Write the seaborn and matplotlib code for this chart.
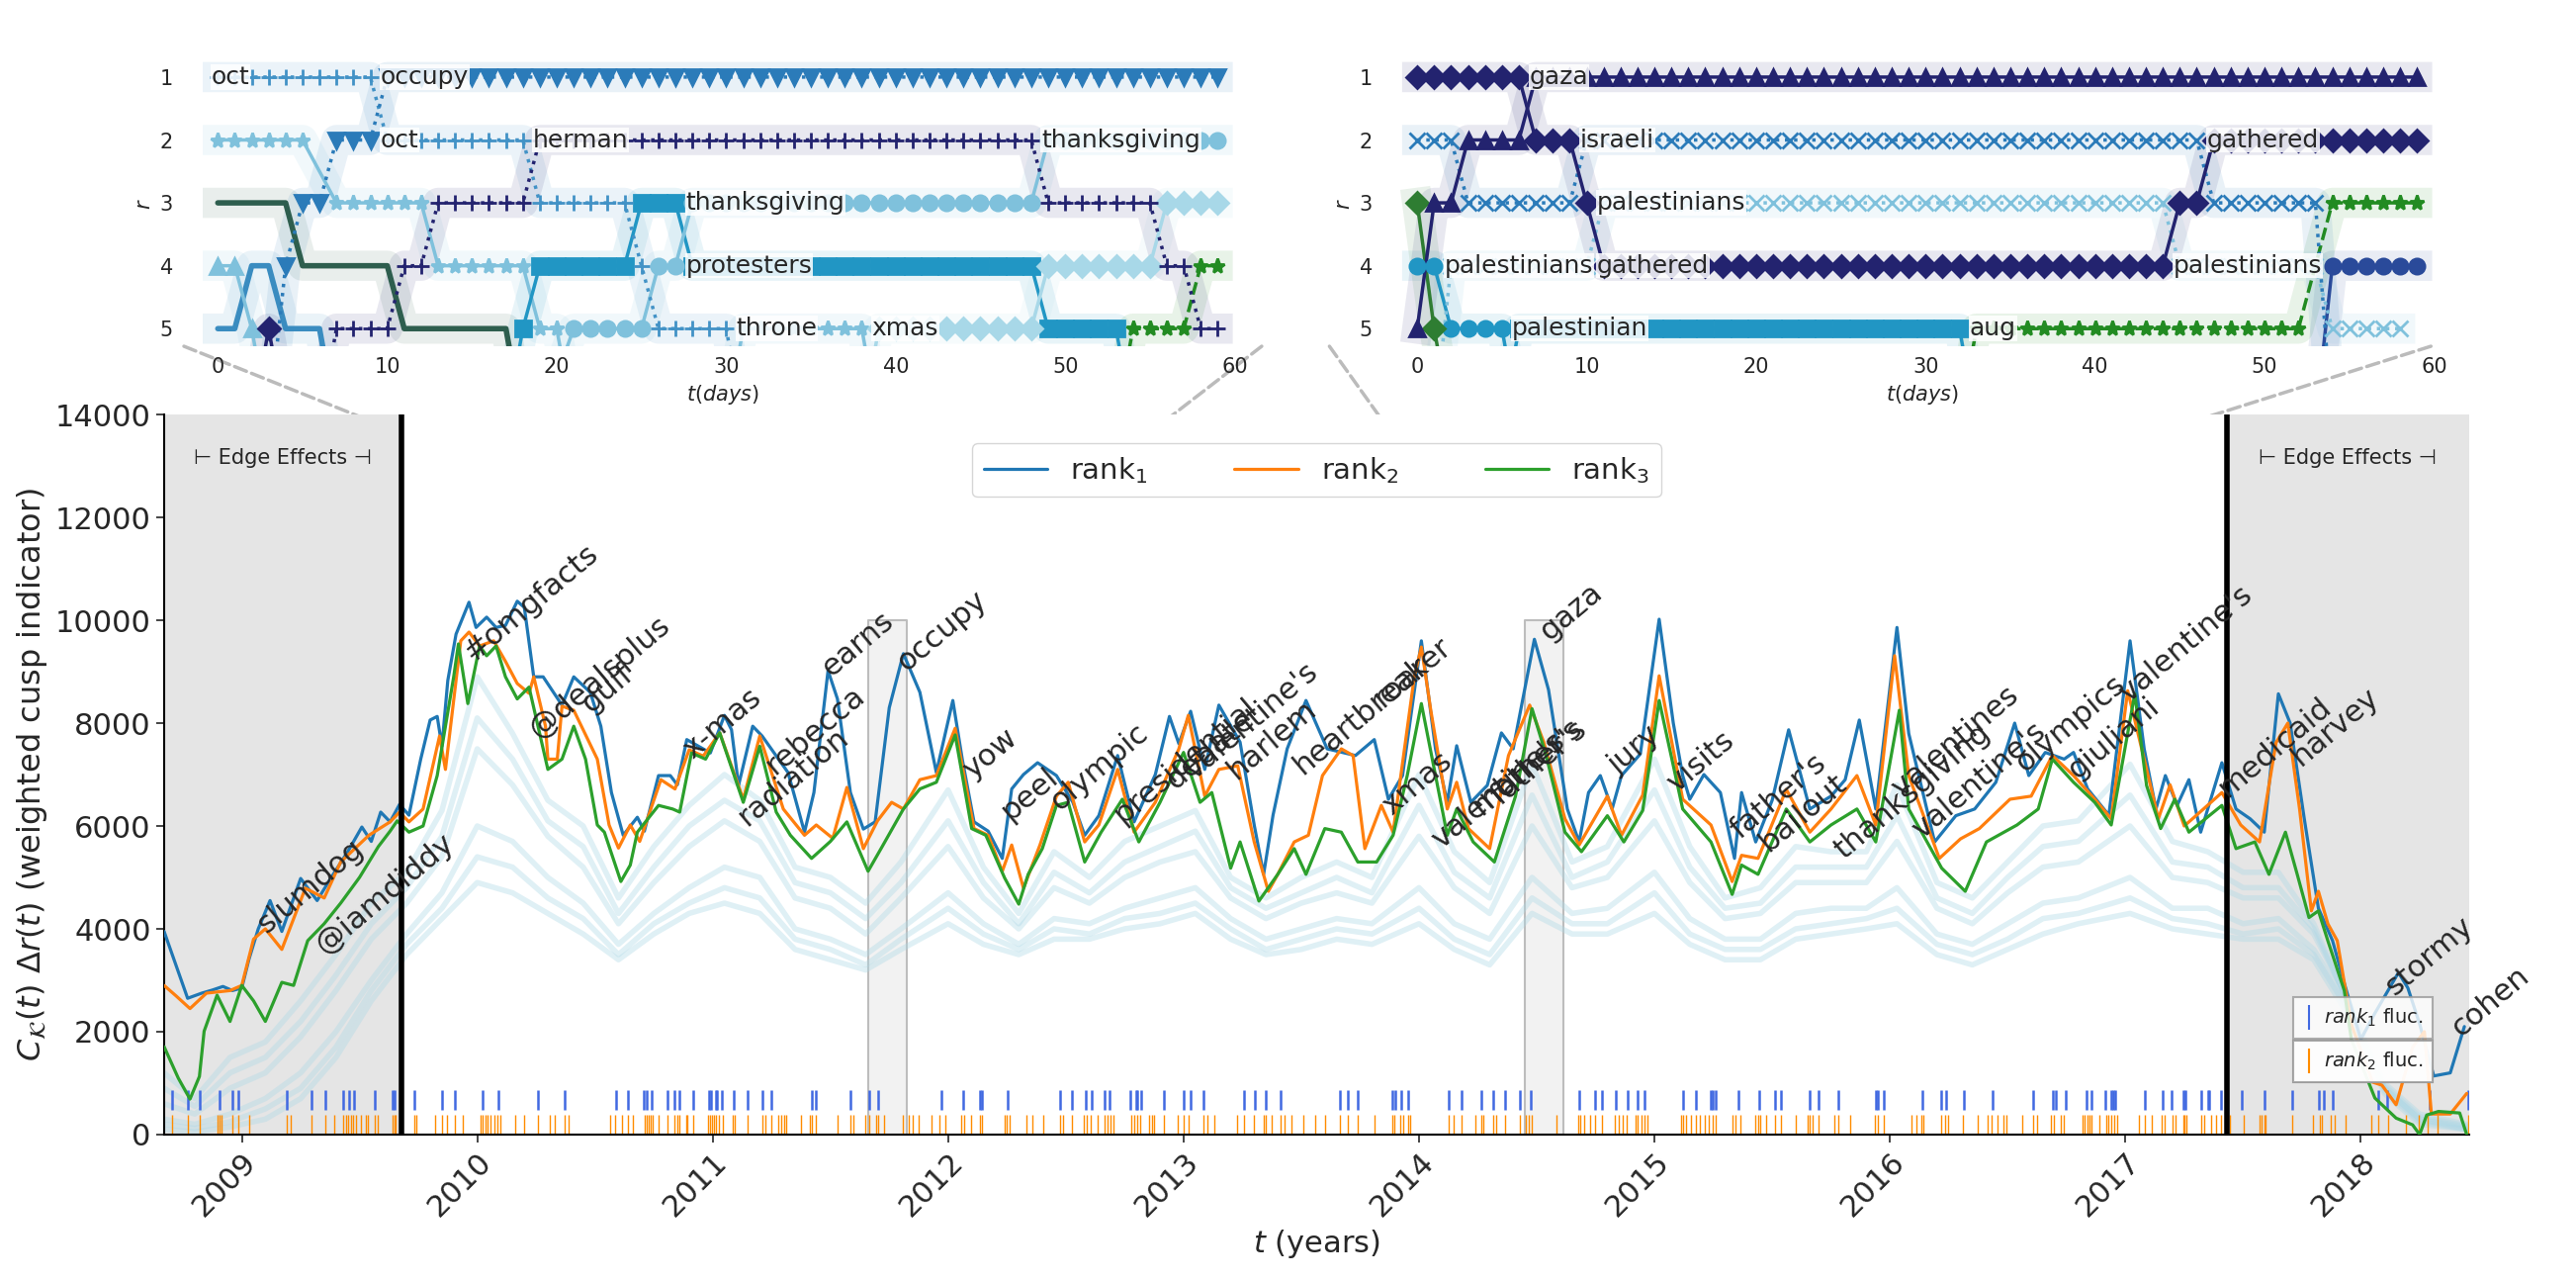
import numpy as np
import matplotlib
matplotlib.use("Agg")
import matplotlib.pyplot as plt
import seaborn as sns
from matplotlib.lines import Line2D
from matplotlib.patches import ConnectionPatch

# weighted cusp indicator over time, with two zoomed rank-turbulence insets

sns.set_theme(style="ticks")
plt.rcParams['font.family'] = ['DejaVu Sans']
plt.rcParams['mathtext.fontset'] = 'dejavusans'

# ---------------- main series (years, value) ----------------
rank1_t = [2008.67, 2008.72, 2008.77, 2008.83, 2008.875, 2008.92, 2008.96, 2009.0, 2009.03, 2009.07,
           2009.12, 2009.17, 2009.25, 2009.32, 2009.38, 2009.45, 2009.51, 2009.55, 2009.59, 2009.63,
           2009.67, 2009.71, 2009.76, 2009.80, 2009.83, 2009.85, 2009.875, 2009.91, 2009.965, 2009.995,
           2010.04, 2010.08, 2010.12, 2010.17, 2010.20, 2010.24, 2010.28, 2010.36, 2010.41, 2010.48,
           2010.525, 2010.57, 2010.62, 2010.68, 2010.71, 2010.77, 2010.82, 2010.85, 2010.89, 2010.94,
           2010.99, 2011.05, 2011.08, 2011.11, 2011.17, 2011.21, 2011.32, 2011.39, 2011.43, 2011.49,
           2011.53, 2011.585, 2011.64, 2011.69, 2011.75, 2011.81, 2011.88, 2011.95, 2012.02, 2012.06,
           2012.11, 2012.17, 2012.23, 2012.27, 2012.32, 2012.38, 2012.46, 2012.53, 2012.58, 2012.64,
           2012.72, 2012.79, 2012.88, 2012.94, 2012.98, 2013.03, 2013.09, 2013.15, 2013.24, 2013.30,
           2013.34, 2013.38, 2013.44, 2013.52, 2013.61, 2013.73, 2013.81, 2013.87, 2013.93, 2014.01,
           2014.07, 2014.12, 2014.16, 2014.22, 2014.29, 2014.35, 2014.40, 2014.49, 2014.55, 2014.63,
           2014.68, 2014.72, 2014.77, 2014.82, 2014.86, 2014.94, 2015.02, 2015.08, 2015.12, 2015.15,
           2015.21, 2015.28, 2015.34, 2015.37, 2015.43, 2015.50, 2015.57, 2015.66, 2015.75, 2015.81,
           2015.87, 2015.94, 2016.03, 2016.08, 2016.19, 2016.28, 2016.36, 2016.45, 2016.53, 2016.59,
           2016.66, 2016.74, 2016.78, 2016.84, 2016.93, 2017.02, 2017.08, 2017.13, 2017.17, 2017.22,
           2017.27, 2017.32, 2017.41, 2017.47, 2017.53, 2017.59, 2017.65, 2017.70, 2017.76, 2017.82,
           2017.88, 2017.93, 2018.00, 2018.06, 2018.16, 2018.20, 2018.25, 2018.31, 2018.38, 2018.44]
rank1_v = [3950, 3300, 2650, 2750, 2810, 2880, 2800, 2850, 3400, 4000,
           4550, 3950, 4980, 4550, 5000, 5500, 5980, 5700, 6270, 6080,
           6420, 6210, 7300, 8060, 8130, 7550, 8830, 9730, 10350, 9860,
           10060, 9860, 9900, 10370, 10250, 8900, 8900, 8350, 8900, 8600,
           7940, 6650, 5820, 6170, 5900, 6980, 6980, 6800, 7680, 7550,
           7420, 8150, 7870, 6790, 7940, 7750, 7040, 5880, 6650, 9020,
           8470, 6650, 5940, 6080, 8300, 9350, 8600, 7040, 8440, 7300,
           6080, 5900, 5370, 6720, 7000, 7230, 6980, 6460, 5820, 6200,
           7370, 6080, 7000, 8130, 7600, 8230, 7100, 8350, 7630, 6020,
           5060, 6210, 7500, 8440, 7500, 7370, 7680, 6520, 6980, 9600,
           7500, 6460, 7560, 6460, 6790, 7810, 7500, 9630, 8650, 6330,
           5690, 6650, 6980, 6330, 6980, 7400, 10020, 8000, 6980, 6520,
           7000, 6650, 5370, 6650, 5690, 6500, 7870, 6330, 6580, 6900,
           8060, 6330, 9860, 7800, 5690, 6200, 6330, 6850, 8000, 6980,
           7430, 7300, 7430, 6720, 6210, 9600, 7500, 6330, 6980, 6400,
           6900, 5880, 7230, 6330, 6140, 5880, 8570, 8000, 6140, 4400,
           3770, 2940, 1850, 2360, 3150, 2850, 2150, 1140, 1200, 2100]

rank2_t = [2008.67, 2008.72, 2008.78, 2008.85, 2008.95, 2009.0, 2009.05, 2009.10, 2009.17, 2009.27,
           2009.35, 2009.42, 2009.54, 2009.63, 2009.67, 2009.71, 2009.77, 2009.84, 2009.865, 2009.93,
           2009.965, 2010.01, 2010.07, 2010.12, 2010.17, 2010.22, 2010.24, 2010.29, 2010.30, 2010.34,
           2010.36, 2010.41, 2010.51, 2010.56, 2010.60, 2010.65, 2010.69, 2010.78, 2010.84, 2010.90,
           2010.96, 2011.03, 2011.13, 2011.20, 2011.30, 2011.39, 2011.44, 2011.51, 2011.57, 2011.64,
           2011.70, 2011.76, 2011.81, 2011.88, 2011.95, 2012.03, 2012.11, 2012.17, 2012.23, 2012.27,
           2012.32, 2012.39, 2012.46, 2012.51, 2012.58, 2012.64, 2012.72, 2012.79, 2012.88, 2012.98,
           2013.02, 2013.09, 2013.15, 2013.23, 2013.30, 2013.36, 2013.40, 2013.47, 2013.53, 2013.59,
           2013.67, 2013.72, 2013.77, 2013.84, 2013.89, 2013.98, 2014.01, 2014.05, 2014.12, 2014.16,
           2014.21, 2014.30, 2014.38, 2014.47, 2014.53, 2014.62, 2014.68, 2014.80, 2014.86, 2014.95,
           2015.02, 2015.12, 2015.24, 2015.33, 2015.37, 2015.44, 2015.56, 2015.66, 2015.75, 2015.86,
           2015.94, 2016.02, 2016.08, 2016.21, 2016.30, 2016.38, 2016.51, 2016.60, 2016.69, 2016.78,
           2016.87, 2016.94, 2017.01, 2017.08, 2017.14, 2017.19, 2017.25, 2017.30, 2017.41, 2017.49,
           2017.57, 2017.64, 2017.69, 2017.74, 2017.79, 2017.82, 2017.86, 2017.90, 2017.96, 2018.05,
           2018.09, 2018.15, 2018.22, 2018.27, 2018.30, 2018.38, 2018.45]
rank2_v = [2900, 2700, 2450, 2750, 2800, 2900, 3800, 4000, 3600, 4790,
           4600, 5300, 5820, 6080, 6270, 6080, 6330, 7750, 7100, 9600,
           9770, 9500, 9600, 9200, 8770, 8580, 8900, 7940, 7300, 7300,
           8330, 8250, 7300, 6020, 5570, 6020, 5700, 6900, 6720, 7480,
           7360, 7810, 6520, 7750, 6330, 5820, 6020, 5760, 6750, 5560,
           6100, 6460, 6330, 6900, 6980, 7900, 5950, 5820, 5120, 5630,
           4790, 5630, 6580, 6850, 5690, 6020, 7100, 5880, 6460, 7500,
           8150, 6580, 7100, 7170, 5690, 4730, 5060, 5690, 5820, 6980,
           7500, 7370, 5560, 6400, 5880, 8900, 9480, 8250, 6330, 6850,
           5950, 5560, 7370, 8350, 7630, 6140, 5630, 6580, 5820, 6600,
           8920, 6520, 6020, 4920, 5430, 5370, 6710, 5880, 6330, 6980,
           6020, 9310, 6980, 5370, 5750, 5950, 6520, 6580, 7370, 6980,
           6520, 6140, 8630, 7300, 6140, 6800, 6000, 6200, 6650, 6020,
           5690, 7620, 8000, 6330, 4350, 4730, 4100, 3770, 2140, 1020,
           960, 580, 1700, 2000, 400, 400, 800]

rank3_t = [2008.67, 2008.73, 2008.78, 2008.82, 2008.84, 2008.895, 2008.95, 2009.0, 2009.05, 2009.10,
           2009.17, 2009.22, 2009.28, 2009.35, 2009.42, 2009.50, 2009.58, 2009.63, 2009.66, 2009.71,
           2009.77, 2009.83, 2009.90, 2009.92, 2009.96, 2010.01, 2010.04, 2010.08, 2010.12, 2010.17,
           2010.22, 2010.30, 2010.36, 2010.41, 2010.46, 2010.51, 2010.54, 2010.61, 2010.65, 2010.68,
           2010.77, 2010.83, 2010.86, 2010.91, 2010.97, 2011.03, 2011.13, 2011.20, 2011.27, 2011.33,
           2011.42, 2011.50, 2011.57, 2011.66, 2011.72, 2011.81, 2011.88, 2011.95, 2012.03, 2012.10,
           2012.16, 2012.24, 2012.30, 2012.34, 2012.40, 2012.46, 2012.51, 2012.58, 2012.65, 2012.74,
           2012.81, 2012.90, 2013.00, 2013.07, 2013.12, 2013.20, 2013.24, 2013.32, 2013.40, 2013.47,
           2013.52, 2013.60, 2013.67, 2013.74, 2013.82, 2013.89, 2013.95, 2014.01, 2014.07, 2014.12,
           2014.16, 2014.23, 2014.32, 2014.41, 2014.48, 2014.54, 2014.62, 2014.69, 2014.80, 2014.87,
           2014.95, 2015.02, 2015.12, 2015.24, 2015.33, 2015.37, 2015.44, 2015.56, 2015.66, 2015.75,
           2015.86, 2015.94, 2016.04, 2016.08, 2016.22, 2016.32, 2016.41, 2016.54, 2016.63, 2016.69,
           2016.78, 2016.87, 2016.94, 2017.04, 2017.09, 2017.15, 2017.21, 2017.27, 2017.41, 2017.47,
           2017.55, 2017.61, 2017.68, 2017.73, 2017.78, 2017.82, 2017.86, 2017.93, 2017.96, 2018.06,
           2018.15, 2018.22, 2018.25, 2018.28, 2018.33, 2018.42, 2018.45]
rank3_v = [1710, 1100, 690, 1130, 2010, 2710, 2200, 2900, 2600, 2200,
           2960, 2900, 3770, 4100, 4500, 5000, 5600, 5900, 6100, 5880,
           6000, 6980, 8900, 9540, 8380, 9500, 9310, 9500, 8900, 8470,
           8700, 7100, 7300, 7940, 7300, 6020, 5880, 4920, 5240, 5880,
           6400, 6330, 6270, 7420, 7300, 7810, 6460, 7550, 6270, 5820,
           5370, 5700, 6080, 5120, 5600, 6330, 6720, 6850, 7770, 5950,
           5820, 4990, 4480, 5060, 5560, 6400, 6460, 5300, 5880, 6520,
           5690, 6460, 7430, 6460, 6650, 5180, 5690, 4540, 5060, 5560,
           5060, 5950, 5880, 5300, 5300, 5820, 6980, 8380, 6980, 5820,
           6330, 5690, 5300, 6580, 8280, 7370, 5880, 5500, 6200, 5690,
           6300, 8440, 6330, 5690, 4670, 5240, 5060, 6330, 5690, 6020,
           6330, 5690, 8250, 6330, 5180, 4730, 5690, 6020, 6330, 7300,
           6850, 6460, 6020, 8570, 6790, 5950, 6520, 5880, 6400, 5560,
           5690, 5060, 5880, 5060, 4220, 4350, 3770, 2800, 1850, 710,
           320, 190, 0, 380, 450, 420, 0]

# lower ranks (faint background lines)
faint_t = [2008.67, 2008.8, 2008.95, 2009.1, 2009.25, 2009.4, 2009.55, 2009.7, 2009.85, 2010.0,
           2010.15, 2010.3, 2010.45, 2010.6, 2010.75, 2010.9, 2011.05, 2011.2, 2011.35, 2011.5,
           2011.65, 2011.8, 2012.0, 2012.15, 2012.3, 2012.45, 2012.6, 2012.75, 2012.9, 2013.05,
           2013.2, 2013.35, 2013.5, 2013.65, 2013.8, 2014.0, 2014.15, 2014.3, 2014.48, 2014.65,
           2014.8, 2015.0, 2015.15, 2015.3, 2015.45, 2015.6, 2015.75, 2015.9, 2016.03, 2016.2,
           2016.35, 2016.5, 2016.65, 2016.8, 2017.02, 2017.2, 2017.35, 2017.5, 2017.65, 2017.8,
           2017.95, 2018.1, 2018.25, 2018.45]
faint_a = [1200, 700, 1500, 1800, 2600, 3500, 4500, 5100, 6300, 8900,
           7800, 6500, 6000, 4600, 5600, 6400, 7000, 6500, 5200, 5000,
           4500, 5300, 6700, 5200, 4300, 5500, 5000, 5700, 6000, 6300,
           5000, 4600, 5000, 5300, 5000, 7000, 5500, 4900, 7200, 5300,
           5600, 7300, 5600, 4600, 4800, 5600, 5500, 5500, 6800, 4900,
           4600, 5300, 6000, 6100, 7200, 5700, 5500, 5100, 5100, 4100,
           2500, 800, 200, 100]
faint_e = [900, 550, 1200, 1500, 2200, 3100, 4100, 4800, 5800, 8100,
           7300, 6100, 5600, 4300, 5200, 6000, 6500, 6100, 4900, 4700,
           4200, 4900, 6100, 4900, 4100, 5100, 4700, 5300, 5600, 5900,
           4800, 4400, 4700, 5000, 4700, 6400, 5100, 4600, 6600, 5000,
           5300, 6700, 5200, 4400, 4500, 5200, 5200, 5200, 6200, 4600,
           4300, 5000, 5600, 5700, 6600, 5300, 5200, 4800, 4800, 4000,
           2550, 850, 250, 100]
faint_b = [600, 400, 900, 1200, 1900, 2800, 3800, 4500, 5400, 7500,
           6800, 5800, 5200, 4100, 4900, 5600, 6100, 5700, 4600, 4400,
           3900, 4600, 5600, 4600, 4000, 4800, 4500, 5000, 5300, 5500,
           4600, 4200, 4500, 4700, 4500, 5800, 4800, 4300, 6000, 4800,
           5000, 6100, 4900, 4200, 4300, 4900, 4900, 4900, 5700, 4400,
           4100, 4700, 5200, 5300, 6000, 5000, 4900, 4600, 4600, 3900,
           2600, 900, 300, 100]
faint_c = [300, 200, 400, 700, 1200, 2000, 3000, 3900, 4700, 6000,
           5700, 5000, 4500, 3700, 4300, 4800, 5200, 5000, 4000, 3800,
           3500, 4000, 4700, 4100, 3700, 4200, 4100, 4400, 4600, 4800,
           4200, 3800, 4000, 4200, 4100, 4800, 4100, 3800, 5000, 4300,
           4400, 5100, 4200, 3800, 3800, 4300, 4400, 4400, 4800, 3900,
           3700, 4100, 4500, 4600, 5000, 4400, 4400, 4100, 4200, 3600,
           2500, 1000, 400, 200]
faint_f = [200, 120, 250, 500, 900, 1700, 2800, 3700, 4400, 5400,
           5200, 4600, 4200, 3500, 4100, 4500, 4800, 4600, 3800, 3600,
           3300, 3800, 4400, 3900, 3600, 4000, 3900, 4200, 4300, 4500,
           4000, 3600, 3800, 4000, 3900, 4400, 3800, 3500, 4600, 4100,
           4100, 4700, 3900, 3600, 3600, 4000, 4100, 4200, 4400, 3700,
           3500, 3800, 4200, 4300, 4600, 4200, 4100, 3900, 4000, 3500,
           2400, 950, 350, 170]
faint_d = [100, 50, 150, 300, 700, 1500, 2600, 3500, 4200, 4900,
           4700, 4300, 3900, 3400, 3900, 4300, 4500, 4300, 3600, 3400,
           3200, 3600, 4100, 3700, 3500, 3800, 3800, 4000, 4100, 4300,
           3800, 3500, 3600, 3800, 3700, 4100, 3600, 3300, 4300, 3900,
           3900, 4300, 3700, 3400, 3400, 3800, 3900, 4000, 4100, 3500,
           3300, 3600, 3900, 4100, 4300, 4000, 3900, 3800, 3800, 3400,
           2300, 900, 300, 150]

# rank fluctuation times (years)
rank1_fluc = [2008.703, 2008.771, 2008.823, 2008.905, 2008.962, 2008.984, 2009.189, 2009.296, 2009.355, 2009.432,
              2009.457, 2009.476, 2009.563, 2009.642, 2009.650, 2009.731, 2009.852, 2009.904, 2010.023, 2010.089,
              2010.259, 2010.370, 2010.589, 2010.640, 2010.708, 2010.720, 2010.739, 2010.807, 2010.836, 2010.859,
              2010.918, 2010.984, 2010.994, 2011.013, 2011.020, 2011.039, 2011.088, 2011.149, 2011.210, 2011.250,
              2011.423, 2011.439, 2011.583, 2011.665, 2011.701, 2011.970, 2012.064, 2012.135, 2012.145, 2012.252,
              2012.475, 2012.525, 2012.584, 2012.608, 2012.663, 2012.686, 2012.775, 2012.797, 2012.805, 2012.818,
              2012.915, 2012.999, 2013.031, 2013.086, 2013.256, 2013.301, 2013.351, 2013.410, 2013.664, 2013.696,
              2013.738, 2013.888, 2013.901, 2013.923, 2013.952, 2014.128, 2014.180, 2014.264, 2014.315, 2014.367,
              2014.428, 2014.473, 2014.681, 2014.746, 2014.777, 2014.836, 2014.888, 2014.927, 2014.957, 2015.120,
              2015.175, 2015.238, 2015.249, 2015.259, 2015.357, 2015.444, 2015.510, 2015.538, 2015.660, 2015.696,
              2015.781, 2015.941, 2015.949, 2015.976, 2016.138, 2016.217, 2016.239, 2016.313, 2016.437, 2016.608,
              2016.694, 2016.704, 2016.745, 2016.833, 2016.857, 2016.916, 2016.939, 2016.947, 2016.957, 2017.082,
              2017.159, 2017.195, 2017.245, 2017.257, 2017.322, 2017.350, 2017.356, 2017.407, 2017.493, 2017.591,
              2017.710, 2017.823, 2017.842, 2017.881, 2018.075, 2018.111, 2018.292, 2018.455]
rank2_fluc = [2008.703, 2008.771, 2008.823, 2008.897, 2008.905, 2008.913, 2008.962, 2008.984, 2009.031, 2009.189,
              2009.208, 2009.296, 2009.355, 2009.394, 2009.432, 2009.442, 2009.453, 2009.462, 2009.473, 2009.486,
              2009.505, 2009.528, 2009.536, 2009.563, 2009.576, 2009.639, 2009.647, 2009.655, 2009.731, 2009.742,
              2009.821, 2009.852, 2009.871, 2009.904, 2009.939, 2010.013, 2010.023, 2010.034, 2010.045, 2010.057,
              2010.073, 2010.084, 2010.097, 2010.160, 2010.199, 2010.259, 2010.310, 2010.329, 2010.370, 2010.389,
              2010.563, 2010.586, 2010.613, 2010.641, 2010.660, 2010.713, 2010.720, 2010.728, 2010.736, 2010.744,
              2010.771, 2010.807, 2010.839, 2010.851, 2010.859, 2010.886, 2010.894, 2010.918, 2010.981, 2010.989,
              2010.997, 2011.005, 2011.013, 2011.028, 2011.044, 2011.084, 2011.095, 2011.149, 2011.210, 2011.223,
              2011.250, 2011.278, 2011.289, 2011.302, 2011.313, 2011.373, 2011.412, 2011.423, 2011.436, 2011.531,
              2011.583, 2011.597, 2011.646, 2011.665, 2011.693, 2011.701, 2011.728, 2011.807, 2011.834, 2011.850,
              2011.873, 2011.930, 2011.965, 2011.989, 2012.057, 2012.068, 2012.096, 2012.135, 2012.143, 2012.241,
              2012.249, 2012.260, 2012.331, 2012.357, 2012.404, 2012.475, 2012.486, 2012.525, 2012.578, 2012.589,
              2012.604, 2012.636, 2012.663, 2012.675, 2012.688, 2012.704, 2012.778, 2012.791, 2012.802, 2012.814,
              2012.854, 2012.865, 2012.873, 2012.915, 2012.975, 2012.999, 2013.023, 2013.086, 2013.102, 2013.130,
              2013.228, 2013.256, 2013.299, 2013.342, 2013.351, 2013.375, 2013.410, 2013.430, 2013.459, 2013.509,
              2013.560, 2013.599, 2013.664, 2013.696, 2013.738, 2013.809, 2013.888, 2013.896, 2013.920, 2013.931,
              2013.955, 2013.964, 2014.128, 2014.149, 2014.180, 2014.239, 2014.264, 2014.275, 2014.315, 2014.326,
              2014.367, 2014.428, 2014.454, 2014.465, 2014.480, 2014.583, 2014.675, 2014.686, 2014.701, 2014.725,
              2014.746, 2014.777, 2014.833, 2014.848, 2014.867, 2014.883, 2014.918, 2014.930, 2014.946, 2014.959,
              2014.970, 2015.112, 2015.120, 2015.132, 2015.155, 2015.175, 2015.191, 2015.215, 2015.230, 2015.246,
              2015.259, 2015.333, 2015.344, 2015.365, 2015.428, 2015.439, 2015.448, 2015.475, 2015.510, 2015.538,
              2015.601, 2015.649, 2015.660, 2015.672, 2015.696, 2015.764, 2015.780, 2015.830, 2015.938, 2015.949,
              2015.976, 2016.091, 2016.112, 2016.135, 2016.143, 2016.217, 2016.233, 2016.247, 2016.310, 2016.372,
              2016.414, 2016.430, 2016.456, 2016.484, 2016.496, 2016.562, 2016.608, 2016.624, 2016.683, 2016.698,
              2016.725, 2016.740, 2016.818, 2016.825, 2016.838, 2016.849, 2016.857, 2016.888, 2016.919, 2016.929,
              2016.942, 2016.954, 2016.965, 2017.058, 2017.082, 2017.113, 2017.156, 2017.167, 2017.201, 2017.213,
              2017.245, 2017.252, 2017.260, 2017.322, 2017.335, 2017.366, 2017.384, 2017.407, 2017.428, 2017.446,
              2017.501, 2017.570, 2017.578, 2017.589, 2017.594, 2017.710, 2017.796, 2017.827, 2017.834, 2017.873,
              2017.889, 2017.935, 2018.044, 2018.075, 2018.114, 2018.191, 2018.246, 2018.284, 2018.328, 2018.455]

# word annotations on the main panel (word, year, value at text start)
ann_words = ["slumdog", "@iamdiddy", "#omgfacts", "@dealsplus", "gulf", "x-mas", "radiation", "rebecca",
             "earns", "occupy", "yow", "peel", "olympic", "presidential", "debate", "valentine's", "harlem",
             "heartbreaker", "roar", "xmas", "valentine's", "mother's", "father's", "gaza", "jury", "visits",
             "father's", "bailout", "thanksgiving", "valentines", "valentine's", "olympics", "giuliani",
             "valentine's", "medicaid", "harvey", "stormy", "cohen"]
ann_t = [2009.12, 2009.37, 2010.00, 2010.28, 2010.50, 2010.93, 2011.16, 2011.28,
         2011.52, 2011.84, 2012.12, 2012.28, 2012.49, 2012.76, 2012.98, 2013.06, 2013.24,
         2013.52, 2013.86, 2013.90, 2014.11, 2014.28, 2014.36, 2014.57, 2014.86, 2015.11,
         2015.38, 2015.50, 2015.82, 2016.06, 2016.15, 2016.59, 2016.81,
         2017.03, 2017.45, 2017.76, 2018.16, 2018.44]
ann_v = [3800, 3400, 9100, 7600, 8100, 7200, 5900, 6900,
         8800, 8900, 6800, 6000, 6200, 5950, 6600, 6800, 6800,
         6900, 8200, 6100, 5450, 6100, 6300, 9500, 6900, 6550,
         5650, 5400, 5250, 6450, 5650, 6950, 6800,
         8300, 6450, 7050, 2600, 1800]

edge_left = [2008.67, 2009.68]
edge_right = [2017.43, 2018.46]
zoom_start = [2011.66, 2014.45]
zoom_days = 60

# ---------------- inset word trajectories: runs of (first day, last day, rank) ----------------
# rank 6.5 = outside the top 5
navy, steel, mid, teal, light, pale = "#23236f", "#2b7bb9", "#4292c6", "#2196c4", "#7fc1dc", "#a8d8e8"
dgreen, green, green2 = "#2e5e4e", "#228b22", "#2e7d32"

inset1_words = [
    # (runs, color, marker, linestyle)
    ([(0, 5, 2), (7, 12, 3), (13, 18, 4), (19, 20, 5), (21, 21, 6.5), (30, 30, 6.5), (31, 38, 5), (39, 39, 6.5)], light, "*", "-"),
    ([(0, 4, 3), (5, 10, 4), (11, 17, 5), (18, 18, 6.5)], dgreen, None, "-"),
    ([(0, 1, 5), (2, 3, 4), (4, 6, 5), (7, 7, 6.5)], "#3a8cc0", None, "-"),
    ([(0, 1, 4), (2, 2, 5), (3, 3, 6.5)], light, "^", "-"),
    ([(2, 2, 6.5), (3, 3, 5), (4, 4, 6.5)], navy, "D", "-"),
    ([(17, 17, 6.5), (18, 18, 5), (19, 24, 4), (25, 27, 3), (28, 48, 4), (49, 53, 5), (54, 54, 6.5)], teal, "s", "-"),
    ([(19, 19, 6.5), (21, 25, 5), (26, 27, 4), (28, 48, 3), (49, 59, 2)], light, "o", "-"),
    ([(38, 38, 6.5), (39, 48, 5), (49, 55, 4), (56, 59, 3)], pale, "D", "-"),
    ([(53, 53, 6.5), (54, 57, 5), (58, 59, 4)], green, "*", "--"),
    ([(0, 9, 1), (10, 18, 2), (19, 24, 3), (25, 25, 4), (26, 30, 5), (31, 31, 6.5)], mid, "+", ":"),
    ([(6, 6, 6.5), (7, 10, 5), (11, 12, 4), (13, 18, 3), (19, 48, 2), (49, 55, 3), (56, 57, 4), (58, 59, 5)], navy, "+", ":"),
    ([(3, 3, 6.5), (4, 4, 4), (5, 6, 3), (7, 9, 2), (10, 59, 1)], steel, "v", ":"),
]
inset1_labels = [("oct", 0, 1), ("occupy", 10, 1), ("oct", 10, 2), ("herman", 19, 2), ("thanksgiving", 49, 2),
                 ("thanksgiving", 28, 3), ("protesters", 28, 4), ("throne", 31, 5), ("xmas", 39, 5)]

inset2_words = [
    ([(0, 1, 4), (2, 5, 5), (6, 6, 6.5)], teal, "o", "-"),
    ([(53, 53, 6.5), (54, 59, 4)], "#2a4a9a", "o", "-"),
    ([(5, 5, 6.5), (6, 32, 5), (33, 33, 6.5)], teal, "s", "-"),
    ([(0, 0, 3), (1, 1, 5), (2, 2, 6.5)], green2, "D", "-"),
    ([(32, 32, 6.5), (33, 52, 5), (54, 59, 3)], green, "*", "--"),
    ([(1, 1, 6.5), (2, 10, 4), (11, 44, 3), (45, 53, 4), (54, 58, 5)], light, "x", ":"),
    ([(0, 2, 2), (3, 9, 3), (10, 46, 2), (47, 53, 3), (54, 56, 6.5)], steel, "x", ":"),
    ([(0, 0, 5), (1, 2, 3), (3, 6, 2), (7, 59, 1)], navy, "^", "-"),
    ([(0, 6, 1), (7, 9, 2), (10, 10, 3), (11, 44, 4), (45, 46, 3), (47, 59, 2)], navy, "D", "-"),
]
inset2_labels = [("gaza", 7, 1), ("israeli", 10, 2), ("gathered", 47, 2), ("palestinians", 11, 3),
                 ("palestinians", 2, 4), ("gathered", 11, 4), ("palestinians", 45, 4),
                 ("palestinian", 6, 5), ("aug", 33, 5)]

# ---------------- figure ----------------
fig = plt.figure(figsize=(26.05, 12.95), dpi=100)
ax = fig.add_axes([0.0637, 0.1143, 0.8948, 0.5621])

ax.axvspan(edge_left[0], edge_left[1], color="#e5e5e5", lw=0, zorder=0)
ax.axvspan(edge_right[0], edge_right[1], color="#e5e5e5", lw=0, zorder=0)
ax.axvline(edge_left[1], color="black", lw=4, zorder=4)
ax.axvline(edge_right[0], color="black", lw=4, zorder=4)
for e in [edge_left, edge_right]:
    ax.text((e[0] + e[1]) / 2, 13150, "\u22a2 Edge Effects \u22a3", ha="center", va="center", fontsize=15)

for z0 in zoom_start:
    ax.fill_between([z0, z0 + zoom_days / 365.25], 0, 10000, facecolor="#f2f2f2",
                    edgecolor="#bdbdbd", lw=1.5, zorder=0.5)

for s in [faint_a, faint_e, faint_b, faint_c, faint_f, faint_d]:
    sns.lineplot(x=faint_t, y=s, ax=ax, color="lightblue", alpha=0.38, lw=4,
                 sort=False, estimator=None, legend=False, zorder=1)

sns.lineplot(x=rank1_t, y=rank1_v, ax=ax, color="#1f77b4", lw=2.3, sort=False, estimator=None,
             label=r"rank$_1$", zorder=3)
sns.lineplot(x=rank2_t, y=rank2_v, ax=ax, color="#ff7f0e", lw=2.3, sort=False, estimator=None,
             label=r"rank$_2$", zorder=3)
sns.lineplot(x=rank3_t, y=rank3_v, ax=ax, color="#2ca02c", lw=2.3, sort=False, estimator=None,
             label=r"rank$_3$", zorder=3)

ax.vlines(rank1_fluc, 480, 870, color="royalblue", lw=1.8, zorder=2)
sns.rugplot(x=rank2_fluc, ax=ax, height=0.028, color="darkorange", lw=2, expand_margins=False, zorder=2)

for w, t, v in zip(ann_words, ann_t, ann_v):
    ax.text(t, v, w, rotation=40, rotation_mode="anchor", ha="left", va="bottom",
            fontsize=22, zorder=5)

ax.set_xlim(2008.67, 2018.46)
ax.set_ylim(0, 14000)
ax.set_yticks(range(0, 14001, 2000))
years = list(range(2009, 2019))
ax.set_xticks(years)
ax.set_xticklabels([str(y) for y in years], rotation=45, ha="right", rotation_mode="anchor")
ax.tick_params(axis="both", labelsize=22, length=6, width=1.2)
ax.set_xlabel(r"$t$ (years)", fontsize=22)
ax.set_ylabel(r"$C_{\mathcal{K}}(t)\ \Delta r(t)$ (weighted cusp indicator)", fontsize=23)
sns.despine(ax=ax)
for sp in ["left", "bottom"]:
    ax.spines[sp].set_color("black")
    ax.spines[sp].set_linewidth(1.5)

leg = ax.legend(loc="upper center", bbox_to_anchor=(0.5, 0.98), ncol=3, fontsize=21,
                frameon=True, handlelength=2.2, columnspacing=3.0)
ax.add_artist(leg)
h1 = Line2D([], [], color="royalblue", marker="|", ls="none", markersize=18, mew=1.5)
h2 = Line2D([], [], color="darkorange", marker="|", ls="none", markersize=18, mew=1.5)
for h, lab, yy in [(h1, r"$rank_1$ fluc.", 0.162), (h2, r"$rank_2$ fluc.", 0.102)]:
    lg = ax.legend([h], [lab], loc="center", bbox_to_anchor=(0.954, yy), fontsize=14,
                   fancybox=False, edgecolor="#999999", framealpha=0.8, handlelength=0.6,
                   handletextpad=0.5, borderpad=0.5)
    lg.get_frame().set_linewidth(1.5)
    ax.add_artist(lg)


def draw_inset(axi, words, labels):
    for runs, col, mk, ls in words:
        xs, ys = [], []
        for d0, d1, r in runs:
            xs += [d0, d1]
            ys += [r, r]
        axi.plot(xs, ys, color=col, lw=22, alpha=0.1, solid_capstyle="projecting", zorder=1)
        lw = 4 if mk is None else 2.5
        axi.plot(xs, ys, color=col, lw=lw, ls=ls, zorder=2)
        if mk is not None:
            for d0, d1, r in runs:
                if r <= 5:
                    days = np.arange(d0, d1 + 1)
                    axi.plot(days, [r] * len(days), ls="none", marker=mk, color=col,
                             markersize=11, mew=2, zorder=3)
    for w, d, r in labels:
        axi.text(d - 0.4, r, w, ha="left", va="center", fontsize=18, zorder=5,
                 bbox=dict(facecolor="white", edgecolor="none", alpha=0.85, pad=0.5))
    axi.set_xlim(-2, 61.6)
    axi.set_ylim(5.28, 0.75)
    axi.set_yticks([1, 2, 3, 4, 5])
    axi.set_xticks([0, 10, 20, 30, 40, 50, 60])
    axi.tick_params(length=0, labelsize=15, pad=8)
    axi.set_xlabel(r"$t(days)$", fontsize=15)
    axi.set_ylabel(r"$r$", fontsize=15)
    for sp in axi.spines.values():
        sp.set_visible(False)
    axi.set_facecolor("none")


ins1 = fig.add_axes([0.0714, 0.7297, 0.4184, 0.2224])
ins2 = fig.add_axes([0.537, 0.7297, 0.4184, 0.2224])
draw_inset(ins1, inset1_words, inset1_labels)
draw_inset(ins2, inset2_words, inset2_labels)

# dashed guides from each inset's lower corners to its zoom box
corners = {0: [(0, 0), (1, 0)], 1: [(-0.05, 0), (0.972, 0)]}
for i, (axi, z0) in enumerate([(ins1, zoom_start[0]), (ins2, zoom_start[1])]):
    for corner, xz in zip(corners[i], [z0, z0 + zoom_days / 365.25]):
        con = ConnectionPatch(xyA=corner, coordsA=axi.transAxes, xyB=(xz, 10000), coordsB=ax.transData,
                              color="#bbbbbb", ls="--", lw=2.5, zorder=0)
        fig.add_artist(con)

fig.savefig("out.png", dpi=100)
